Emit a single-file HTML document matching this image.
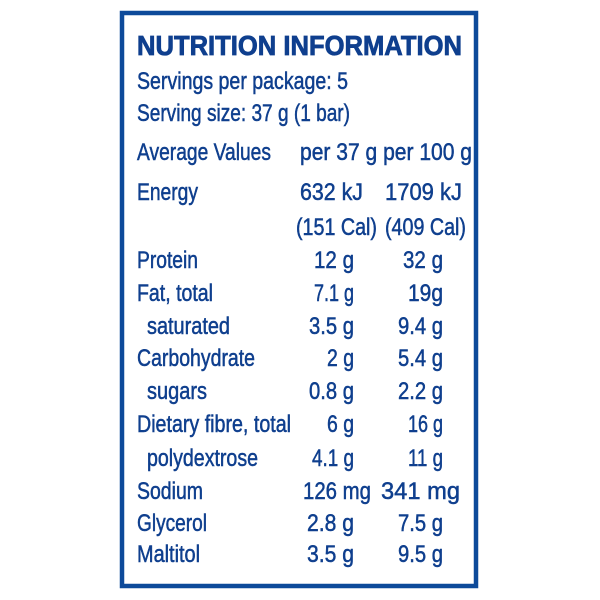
<!DOCTYPE html>
<html><head><meta charset="utf-8"><style>
html,body{margin:0;padding:0;background:#fff;width:600px;height:600px;overflow:hidden}
svg text{font-family:"Liberation Sans",Arial,sans-serif;fill:#0f3f8e;font-size:24px;stroke:#0f3f8e;stroke-width:0.5}
</style></head><body>
<svg width="600" height="600" viewBox="0 0 600 600" xmlns="http://www.w3.org/2000/svg">
<rect x="122" y="13" width="354" height="573" fill="none" stroke="#0d4a9a" stroke-width="4.5"/>
<g>
<text x="137" y="55" font-weight="bold" style="font-size:28px;stroke-width:0.8" textLength="325" lengthAdjust="spacingAndGlyphs">NUTRITION INFORMATION</text>
<text x="137" y="89" textLength="211" lengthAdjust="spacingAndGlyphs">Servings per package: 5</text>
<text x="137" y="121" textLength="213" lengthAdjust="spacingAndGlyphs">Serving size: 37 g (1 bar)</text>
<text x="137" y="160" textLength="134" lengthAdjust="spacingAndGlyphs">Average Values</text>
<text x="300" y="160" textLength="172" lengthAdjust="spacingAndGlyphs">per 37 g per 100 g</text>

<text x="137" y="200" textLength="61" lengthAdjust="spacingAndGlyphs">Energy</text>
<text x="300" y="200" textLength="63" lengthAdjust="spacingAndGlyphs">632 kJ</text>
<text x="385" y="200" textLength="77" lengthAdjust="spacingAndGlyphs">1709 kJ</text>
<text x="296" y="235" textLength="81" lengthAdjust="spacingAndGlyphs">(151 Cal)</text>
<text x="385" y="235" textLength="81" lengthAdjust="spacingAndGlyphs">(409 Cal)</text>

<text x="137" y="268" textLength="61" lengthAdjust="spacingAndGlyphs">Protein</text>
<text x="314" y="268" textLength="40" lengthAdjust="spacingAndGlyphs">12 g</text>
<text x="403" y="268" textLength="40" lengthAdjust="spacingAndGlyphs">32 g</text>

<text x="137" y="301" textLength="76" lengthAdjust="spacingAndGlyphs">Fat, total</text>
<text x="314" y="301" textLength="40" lengthAdjust="spacingAndGlyphs">7.1 g</text>
<text x="408" y="301" textLength="35" lengthAdjust="spacingAndGlyphs">19g</text>

<text x="147" y="334" textLength="83" lengthAdjust="spacingAndGlyphs">saturated</text>
<text x="309" y="334" textLength="45" lengthAdjust="spacingAndGlyphs">3.5 g</text>
<text x="398" y="334" textLength="45" lengthAdjust="spacingAndGlyphs">9.4 g</text>

<text x="137" y="366" textLength="118" lengthAdjust="spacingAndGlyphs">Carbohydrate</text>
<text x="327" y="366" textLength="27" lengthAdjust="spacingAndGlyphs">2 g</text>
<text x="398" y="366" textLength="45" lengthAdjust="spacingAndGlyphs">5.4 g</text>

<text x="147" y="399" textLength="60" lengthAdjust="spacingAndGlyphs">sugars</text>
<text x="309" y="399" textLength="45" lengthAdjust="spacingAndGlyphs">0.8 g</text>
<text x="398" y="399" textLength="45" lengthAdjust="spacingAndGlyphs">2.2 g</text>

<text x="137" y="432" textLength="154" lengthAdjust="spacingAndGlyphs">Dietary fibre, total</text>
<text x="327" y="432" textLength="27" lengthAdjust="spacingAndGlyphs">6 g</text>
<text x="408" y="432" textLength="35" lengthAdjust="spacingAndGlyphs">16 g</text>

<text x="147" y="466" textLength="111" lengthAdjust="spacingAndGlyphs">polydextrose</text>
<text x="312" y="466" textLength="42" lengthAdjust="spacingAndGlyphs">4.1 g</text>
<text x="408" y="466" textLength="35" lengthAdjust="spacingAndGlyphs">11 g</text>

<text x="137" y="499" textLength="66" lengthAdjust="spacingAndGlyphs">Sodium</text>
<text x="303" y="499" textLength="68" lengthAdjust="spacingAndGlyphs">126 mg</text>
<text x="381" y="499" textLength="79" lengthAdjust="spacingAndGlyphs">341 mg</text>

<text x="137" y="531" textLength="70" lengthAdjust="spacingAndGlyphs">Glycerol</text>
<text x="307" y="531" textLength="47" lengthAdjust="spacingAndGlyphs">2.8 g</text>
<text x="398" y="531" textLength="45" lengthAdjust="spacingAndGlyphs">7.5 g</text>

<text x="137" y="562" textLength="63" lengthAdjust="spacingAndGlyphs">Maltitol</text>
<text x="307" y="562" textLength="47" lengthAdjust="spacingAndGlyphs">3.5 g</text>
<text x="398" y="562" textLength="45" lengthAdjust="spacingAndGlyphs">9.5 g</text>
</g>
</svg>
</body></html>
